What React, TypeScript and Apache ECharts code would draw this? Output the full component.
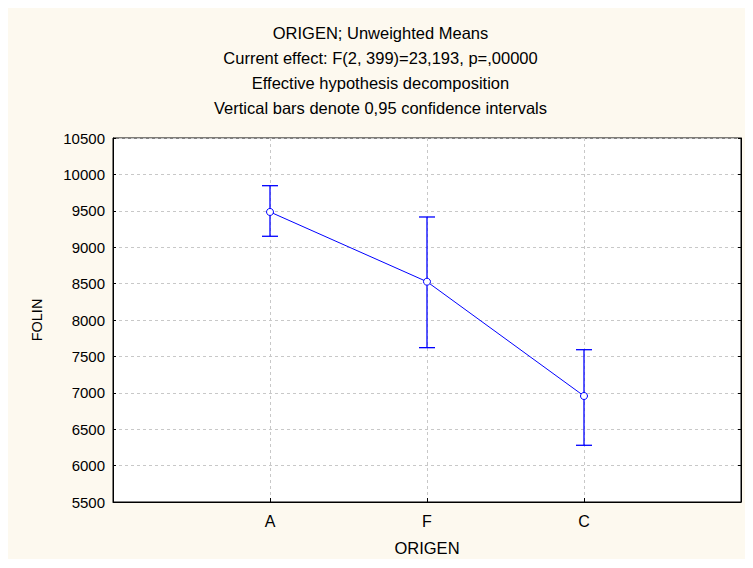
import React, { useEffect, useRef } from "react";
import * as echarts from "echarts";

const categories = ["A", "F", "C"];
const means = [9484, 8526, 6956];
const lowerCI = [9150, 7620, 6279];
const upperCI = [9845, 9415, 7592];
const yTicks = [5500, 6000, 6500, 7000, 7500, 8000, 8500, 9000, 9500, 10000, 10500];
const titleLines = [
  "ORIGEN; Unweighted Means",
  "Current effect: F(2, 399)=23,193, p=,00000",
  "Effective hypothesis decomposition",
  "Vertical bars denote 0,95 confidence intervals",
];

const FONT = "'Liberation Sans', Arial, sans-serif";
const BLUE = "#0000ff";

export default function App() {
  const ref = useRef<HTMLDivElement>(null);
  useEffect(() => {
    if (!ref.current) return;
    const chart = echarts.init(ref.current, null, { renderer: "svg" });
    const xPos = categories.map((_, i) => i + 1);
    const option: any = {
      animation: false,
      backgroundColor: "#fdf9ef",
      textStyle: { fontFamily: FONT },
      title: {
        text: titleLines.join("\n"),
        left: "center",
        top: 7,
        textStyle: { fontSize: 16.5, fontWeight: "normal", color: "#000", lineHeight: 25, fontFamily: FONT },
      },
      grid: {
        left: 105,
        top: 130,
        right: 12,
        bottom: 57,
        outerBoundsMode: "none",
        containLabel: false,
        show: true,
        backgroundColor: "#fff",
        borderColor: "#000",
        borderWidth: 1,
      },
      xAxis: {
        type: "value",
        min: 0,
        max: 4,
        interval: 1,
        name: "ORIGEN",
        nameLocation: "middle",
        nameGap: 37,
        nameTextStyle: { fontSize: 16.5, color: "#000", fontFamily: FONT },
        axisLine: { show: true, lineStyle: { color: "#000", width: 1 } },
        axisTick: { show: true, inside: true, length: 4, lineStyle: { color: "#000" } },
        axisLabel: {
          fontSize: 16,
          color: "#000",
          margin: 11,
          fontFamily: FONT,
          formatter: (v: number) => (v >= 1 && v <= categories.length ? categories[v - 1] : ""),
        },
        splitLine: { show: true, lineStyle: { color: "#c8c8c8", type: [3, 3], width: 1 } },
      },
      yAxis: [
        {
          type: "value",
          min: yTicks[0],
          max: yTicks[yTicks.length - 1],
          interval: 500,
          name: "FOLIN",
          nameLocation: "middle",
          nameGap: 69,
          nameRotate: 90,
          nameTextStyle: { fontSize: 14.5, color: "#000", fontFamily: FONT },
          axisLine: { show: true, lineStyle: { color: "#000", width: 1 } },
          axisTick: { show: true, inside: true, length: 3, lineStyle: { color: "#000" } },
          axisLabel: { fontSize: 15, color: "#000", margin: 8, fontFamily: FONT, formatter: (v: number) => String(v) },
          splitLine: { show: true, lineStyle: { color: "#c8c8c8", type: [3, 3], width: 1 } },
        },
        {
          type: "value",
          position: "right",
          min: yTicks[0],
          max: yTicks[yTicks.length - 1],
          interval: 500,
          axisLine: { show: true, lineStyle: { color: "#000", width: 1 } },
          axisTick: { show: true, inside: true, length: 3, lineStyle: { color: "#000" } },
          axisLabel: { show: false },
          splitLine: { show: false },
        },
      ],
      series: [
        {
          type: "custom",
          yAxisIndex: 0,
          z: 3,
          data: xPos.map((x, i) => [x, lowerCI[i], upperCI[i]]),
          renderItem: (params: any, api: any) => {
            const x = api.value(0);
            const lo = api.coord([x, api.value(1)]);
            const hi = api.coord([x, api.value(2)]);
            const hw = 8;
            const style = { stroke: BLUE, lineWidth: 1.3, fill: "none" };
            return {
              type: "group",
              children: [
                { type: "line", shape: { x1: lo[0], y1: lo[1], x2: hi[0], y2: hi[1] }, style },
                { type: "line", shape: { x1: lo[0] - hw, y1: lo[1], x2: lo[0] + hw, y2: lo[1] }, style },
                { type: "line", shape: { x1: hi[0] - hw, y1: hi[1], x2: hi[0] + hw, y2: hi[1] }, style },
              ],
            };
          },
        },
        {
          type: "line",
          yAxisIndex: 0,
          z: 4,
          data: xPos.map((x, i) => [x, means[i]]),
          lineStyle: { color: BLUE, width: 1 },
          symbol: "circle",
          symbolSize: 7,
          itemStyle: { color: "#fff", borderColor: BLUE, borderWidth: 1 },
        },
      ],
    };
    chart.setOption(option);
    return () => chart.dispose();
  }, []);
  return <div ref={ref} style={{ width: 745, height: 551 }} />;
}
